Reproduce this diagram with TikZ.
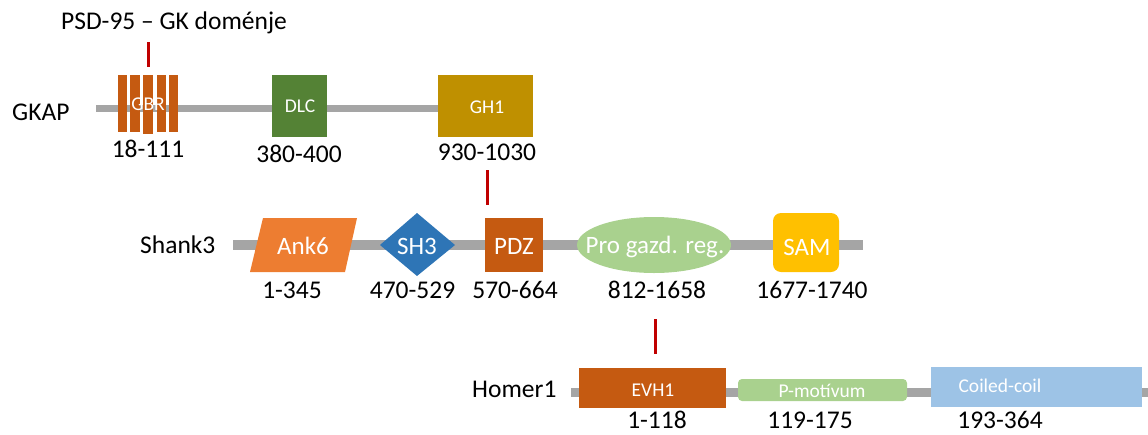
\documentclass[tikz,border=0pt]{standalone}
\usepackage{fontspec}
\setmainfont{Carlito}
\definecolor{gline}{HTML}{A5A5A5}
\definecolor{redl}{HTML}{C00000}
\definecolor{corange}{HTML}{C55A11}
\definecolor{cgreen}{HTML}{548235}
\definecolor{cgold}{HTML}{BF9000}
\definecolor{clorange}{HTML}{ED7D31}
\definecolor{cblue}{HTML}{2E75B6}
\definecolor{clgreen}{HTML}{A9D18E}
\definecolor{cyellow}{HTML}{FFC000}
\definecolor{clblue}{HTML}{9DC3E6}
\begin{document}
\begin{tikzpicture}[x=1pt,y=-1pt,
  lbl/.style={inner sep=0pt,anchor=base,font=\fontsize{25.5}{30}\selectfont,text=black},
  inbig/.style={inner sep=0pt,anchor=base,font=\fontsize{25}{30}\selectfont,text=white},
  insmall/.style={inner sep=0pt,anchor=base,font=\fontsize{19.5}{24}\selectfont,text=white},
  backbone/.style={draw=gline,line width=#1},
  link/.style={draw=redl,line width=3pt},
  boxd/.style={rectangle,inner sep=0pt,draw=none}]
\useasboundingbox (0,0) rectangle (1148,434);

% ---------- GKAP ----------
\coordinate (gk0) at (96,108.5);
\coordinate (gk1) at (440,108.5);
\draw[backbone=7pt] (gk0) -- (gk1);
\node[lbl,anchor=base west] (gkap) at (12,120) {GKAP};
\foreach \xa/\xb/\yb [count=\i] in {118/127/132,130/140/132,143/153/133.5,157/166/132,169/178/132}{
  \fill[corange] (\xa,75) rectangle (\xb,\yb);
  \coordinate (gbr\i) at ({(\xa+\xb)/2},75);
}
\node[insmall] (gbrt) at (148,110) {GBR};
\node[boxd,fill=cgreen,minimum width=55pt,minimum height=62pt] (dlc) at (299.5,106) {};
\node[insmall] (dlct) at (300,112) {DLC};
\node[boxd,fill=cgold,minimum width=95pt,minimum height=62pt] (gh1) at (485.5,106) {};
\node[insmall] (gh1t) at (487,113) {GH1};
\node[lbl] (l18) at (148,157) {18-111};
\node[lbl] (l380) at (299,162) {380-400};
\node[lbl] (l930) at (487,160) {930-1030};
\node[lbl] (psd) at (174,29) {PSD-95 -- GK doménje};
\coordinate (r1a) at (148,42);
\coordinate (r1b) at (148,67);
\draw[link] (r1a) -- (r1b);

% ---------- Shank3 ----------
\coordinate (sh0) at (233,245);
\coordinate (sh1) at (863,245);
\draw[backbone=10pt] (sh0) -- (sh1);
\node[lbl,anchor=base west] (shank) at (140,253) {Shank3};
\fill[clorange] (263,218) -- (357,218) -- (345,272) -- (250,272) -- cycle;
\node[inbig] (ankt) at (303,254) {Ank6};
\fill[cblue] (417,213) -- (455,245) -- (417,276) -- (380,245) -- cycle;
\node[inbig] (sh3t) at (417,254) {SH3};
\node[boxd,fill=corange,minimum width=58pt,minimum height=54pt] (pdz) at (514,245) {};
\node[inbig] (pdzt) at (514,254) {PDZ};
\fill[clgreen] (654,245) ellipse [x radius=77pt, y radius=28pt];
\node[inbig] (prot) at (655,253) {Pro gazd. reg.};
\node[boxd,fill=cyellow,rounded corners=8pt,minimum width=66pt,minimum height=59pt] (sam) at (806,242.5) {};
\node[inbig] (samt) at (807,255) {SAM};
\node[lbl] (l1) at (292,298) {1-345};
\node[lbl] (l470) at (412.5,298) {470-529};
\node[lbl] (l570) at (515,298) {570-664};
\node[lbl] (l812) at (657,298) {812-1658};
\node[lbl] (l1677) at (812,298) {1677-1740};
\coordinate (r2a) at (487,170);
\coordinate (r2b) at (487,205);
\draw[link] (r2a) -- (r2b);

% ---------- Homer1 ----------
\coordinate (ho0) at (571,392);
\coordinate (ho1) at (1148,392);
\draw[backbone=9pt] (ho0) -- (ho1);
\node[lbl,anchor=base west] (homer) at (472,397) {Homer1};
\node[boxd,fill=corange,minimum width=147pt,minimum height=40pt] (evh) at (652.5,388) {};
\node[insmall] (evht) at (653,396) {EVH1};
\node[boxd,fill=clgreen,rounded corners=4pt,minimum width=169pt,minimum height=22pt] (pmot) at (822.5,390) {};
\node[insmall] (pmott) at (822,397) {P-motívum};
\node[boxd,fill=clblue,minimum width=211pt,minimum height=40pt] (coil) at (1036.5,387) {};
\node[insmall] (coilt) at (1000,392) {Coiled-coil};
\node[lbl] (l1118) at (657,428.5) {1-118};
\node[lbl] (l119) at (810,428.5) {119-175};
\node[lbl] (l193) at (1000,428.5) {193-364};
\coordinate (r3a) at (655.5,319);
\coordinate (r3b) at (655.5,354);
\draw[link] (r3a) -- (r3b);
\end{tikzpicture}
\end{document}
